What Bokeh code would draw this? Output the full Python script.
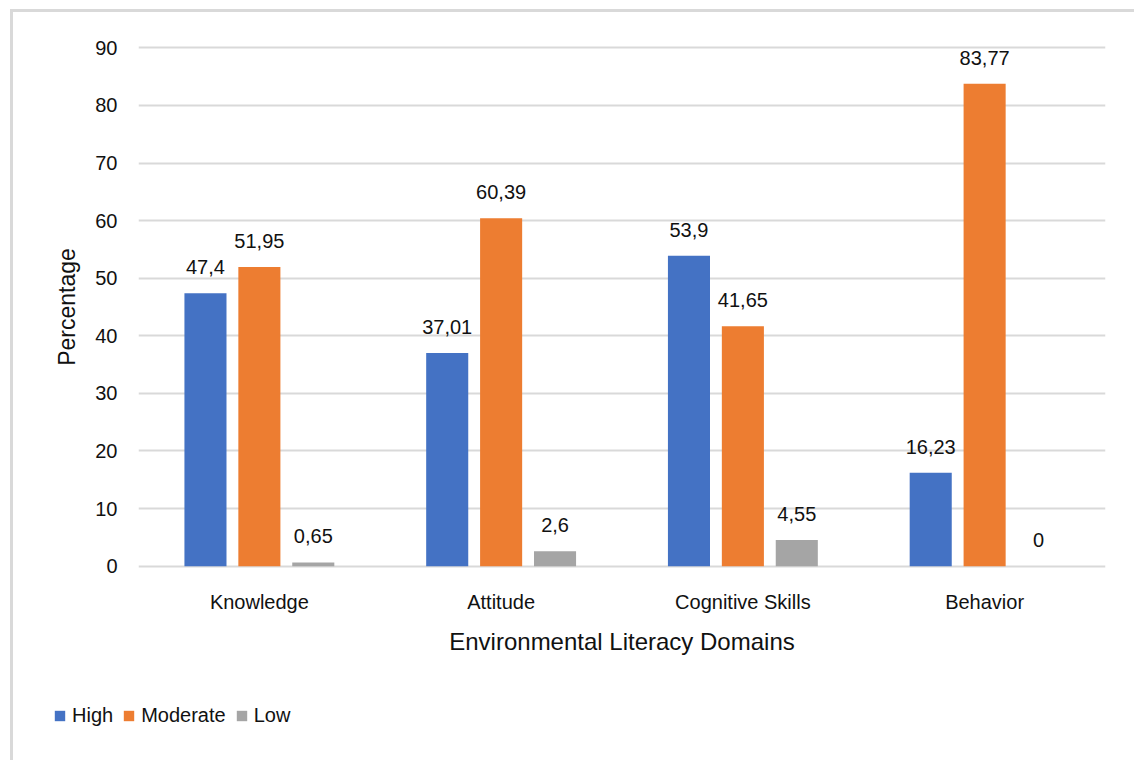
from bokeh.plotting import figure
from bokeh.layouts import column
from bokeh.models import ColumnDataSource, FactorRange, Range1d, Legend, LegendItem
from bokeh.transform import dodge
from bokeh.core.properties import value
from bokeh.embed import file_html
from bokeh.resources import INLINE

domains = ["Knowledge", "Attitude", "Cognitive Skills", "Behavior"]
high = [47.4, 37.01, 53.9, 16.23]
moderate = [51.95, 60.39, 41.65, 83.77]
low = [0.65, 2.6, 4.55, 0]
series = ["High", "Moderate", "Low"]
colors = ["#4472C4", "#ED7D31", "#A5A5A5"]
y_ticks = [0, 10, 20, 30, 40, 50, 60, 70, 80, 90]


def fmt(v):
    return "{:g}".format(v).replace(".", ",")


data = {"domain": domains, "High": high, "Moderate": moderate, "Low": low}
for s in series:
    data[s + "_lbl"] = [fmt(v) for v in data[s]]
src = ColumnDataSource(data)

FONT = "Liberation Sans"
TXT = "#111111"

# canvas origin is shifted by the CSS margin+border (13px, 12px)
p = figure(x_range=FactorRange(*domains), y_range=Range1d(-0.4, 90.4),
           width=1121, height=688, output_backend="svg", toolbar_location=None,
           min_border_left=125, min_border_right=29, min_border_top=33, min_border_bottom=132)
p.frame_align = False
p.outline_line_color = None
p.background_fill_color = "white"
p.border_fill_color = "white"

offsets = [-0.223, 0.0, 0.223]
for s, c, off in zip(series, colors, offsets):
    p.vbar(x=dodge("domain", off, range=p.x_range), top=s, bottom=0, width=0.174, source=src,
           fill_color=c, line_color=None)
    p.text(x=dodge("domain", off, range=p.x_range), y=s, text=s + "_lbl", source=src,
           text_align="center", text_baseline="alphabetic", y_offset=-26,
           text_font=value(FONT), text_font_size="20px", text_color=TXT)

p.xgrid.grid_line_color = None
p.ygrid.grid_line_color = "#d9d9d9"
p.ygrid.grid_line_width = 2
p.yaxis.ticker = y_ticks

for ax in (p.xaxis[0], p.yaxis[0]):
    ax.axis_line_color = None
    ax.major_tick_line_color = None
    ax.minor_tick_line_color = None
    ax.major_tick_out = 0
    ax.major_tick_in = 0
    ax.minor_tick_out = 0
    ax.minor_tick_in = 0
    ax.major_label_text_font = FONT
    ax.major_label_text_font_size = "20px"
    ax.major_label_text_color = TXT
    ax.axis_label_text_font = FONT
    ax.axis_label_text_font_style = "normal"
    ax.axis_label_text_color = TXT

p.yaxis.axis_label = "Percentage"
p.yaxis.axis_label_text_font_size = "23px"
p.yaxis.major_label_standoff = 21
p.yaxis.axis_label_standoff = 12
p.xaxis.axis_label = "Environmental Literacy Domains"
p.xaxis.axis_label_text_font_size = "24px"
p.xaxis.major_label_standoff = 22
p.xaxis.axis_label_standoff = 12

# legend strip below the chart
lg = figure(width=1121, height=60, output_backend="svg", toolbar_location=None,
            x_range=Range1d(0, 1), y_range=Range1d(0, 1), x_axis_type=None, y_axis_type=None,
            min_border=0)
lg.frame_align = False
lg.outline_line_color = None
lg.background_fill_color = "white"
lg.border_fill_color = "white"
lg.xgrid.visible = False
lg.ygrid.visible = False
items = []
for s, c in zip(series, colors):
    # zero-height proxy bar, only used to give the legend its swatch
    r = lg.vbar(x=[0.5], top=[0], bottom=[0], width=0.01, fill_color=c, line_color=None)
    items.append(LegendItem(label=s, renderers=[r]))
legend = Legend(items=items, orientation="horizontal", location=(40, 33), margin=0,
                glyph_width=13, glyph_height=13, label_standoff=6, spacing=9, padding=0,
                label_height=20,
                label_text_font=FONT, label_text_font_size="20px", label_text_color=TXT,
                border_line_color=None, background_fill_alpha=0)
lg.add_layout(legend, "center")

layout = column(p, lg, spacing=0,
                styles={"margin-left": "10px", "margin-top": "9px",
                        "border-left": "3px solid #d9d9d9", "border-top": "3px solid #d9d9d9"})

open("out.html", "w").write(file_html(layout, INLINE))
